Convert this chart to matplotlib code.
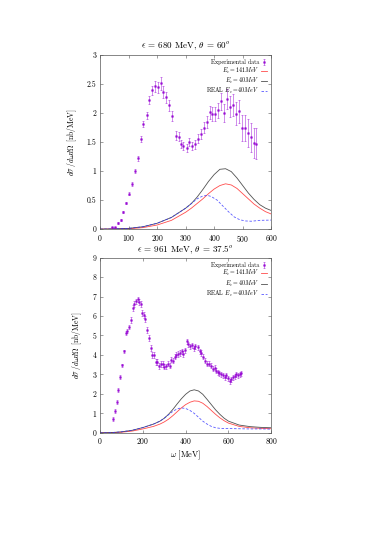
import numpy as np
import matplotlib
matplotlib.use("Agg")
import matplotlib.pyplot as plt

plt.rcParams["font.family"] = "serif"
plt.rcParams["font.serif"] = ["cmr10", "DejaVu Serif"]
plt.rcParams["mathtext.fontset"] = "cm"
plt.rcParams["axes.formatter.use_mathtext"] = True
plt.rcParams["axes.unicode_minus"] = False

# ---- top panel: eps = 680 MeV, theta = 60 deg ----
top_w = [41, 51, 62, 72, 82, 92, 103, 112, 122, 132, 142, 152, 163, 172, 182,
         192, 202, 212, 222, 232, 242, 253, 265, 276, 283, 292, 303, 313, 324,
         334, 344, 354, 364, 374, 384, 393, 402, 413, 423, 434, 444, 455, 465,
         476, 486, 497, 507, 517, 528, 538, 547]
top_y = [0.034, 0.03, 0.11, 0.15, 0.30, 0.45, 0.61, 0.77, 1.00, 1.22, 1.55,
         1.81, 1.96, 2.23, 2.39, 2.46, 2.44, 2.51, 2.36, 2.27, 2.13, 1.95, 1.61,
         1.59, 1.47, 1.43, 1.39, 1.50, 1.43, 1.46, 1.56, 1.64, 1.75, 1.84, 2.01,
         1.99, 1.99, 2.05, 2.20, 2.00, 2.24, 2.11, 2.13, 1.99, 2.03, 1.74, 1.74,
         1.66, 1.58, 1.48, 1.47]
top_err = [0.01, 0.01, 0.015, 0.015, 0.02, 0.025, 0.03, 0.035, 0.04, 0.045,
           0.05, 0.05, 0.06, 0.07, 0.08, 0.1, 0.1, 0.11, 0.1, 0.1, 0.09, 0.09,
           0.08, 0.08, 0.07, 0.07, 0.07, 0.07, 0.07, 0.08, 0.08, 0.09, 0.1, 0.1,
           0.11, 0.12, 0.12, 0.13, 0.14, 0.15, 0.17, 0.18, 0.19, 0.2, 0.2, 0.22,
           0.23, 0.24, 0.25, 0.26, 0.27]

top_cw = [0, 50, 100, 150, 200, 250, 300, 320, 340, 360, 380, 400, 420, 440,
          460, 480, 500, 520, 540, 560, 580, 600]
top_black = [0, 0.003, 0.012, 0.04, 0.1, 0.2, 0.36, 0.44, 0.55, 0.68, 0.82,
             0.94, 1.03, 1.04, 0.99, 0.88, 0.75, 0.62, 0.51, 0.42, 0.36, 0.32]
top_red = [0, 0.002, 0.006, 0.025, 0.07, 0.15, 0.29, 0.36, 0.44, 0.52, 0.61,
           0.69, 0.75, 0.78, 0.76, 0.70, 0.61, 0.52, 0.43, 0.36, 0.30, 0.26]
top_bw = [0, 50, 100, 150, 200, 250, 300, 320, 340, 360, 377, 390, 410, 430,
          450, 470, 490, 510, 530, 560, 600]
top_blue = [0, 0.003, 0.012, 0.04, 0.1, 0.2, 0.36, 0.44, 0.52, 0.57, 0.58,
            0.56, 0.50, 0.40, 0.30, 0.21, 0.16, 0.14, 0.135, 0.15, 0.155]

# ---- bottom panel: eps = 961 MeV, theta = 37.5 deg ----
bot_w = [62, 70, 78, 86, 95, 104, 112, 120, 128, 136, 144, 152, 160, 167, 175,
         183, 189, 195, 203, 211, 218, 228, 236, 244, 252, 260, 268, 276, 285,
         293, 301, 309, 317, 325, 333, 341, 349, 357, 365, 373, 381, 389, 397,
         405, 411, 418, 429, 437, 446, 456, 465, 473, 480, 491, 499, 507, 518,
         527, 535, 543, 551, 558, 566, 574, 582, 590, 597, 605, 613, 621, 629,
         636, 644, 652, 660]
bot_y = [0.72, 1.12, 1.60, 2.20, 2.85, 3.46, 4.18, 5.15, 5.22, 5.45, 5.80,
         6.40, 6.62, 6.75, 6.85, 6.70, 6.62, 6.15, 6.05, 5.85, 5.30, 4.85, 4.35,
         4.00, 3.98, 3.65, 3.62, 3.45, 3.55, 3.55, 3.40, 3.42, 3.55, 3.45, 3.75,
         3.70, 3.90, 4.00, 4.05, 4.10, 4.20, 4.05, 4.25, 4.70, 4.55, 4.45, 4.50,
         4.35, 4.45, 4.40, 4.20, 4.10, 3.90, 3.70, 3.55, 3.55, 3.45, 3.30, 3.35,
         3.20, 3.10, 3.05, 3.00, 2.95, 2.85, 2.95, 2.80, 2.65, 2.75, 2.85, 2.90,
         3.00, 2.95, 3.00, 3.05]
bot_err = [0.1] * 10 + [0.15] * 20 + [0.13] * 45

bot_cw = [0, 50, 100, 150, 200, 250, 280, 300, 320, 340, 360, 380, 400, 420,
          440, 460, 480, 500, 520, 540, 560, 580, 600, 650, 700, 750, 800]
bot_black = [0, 0.01, 0.05, 0.13, 0.27, 0.45, 0.6, 0.75, 0.95, 1.2, 1.48, 1.75,
             1.98, 2.15, 2.21, 2.15, 1.98, 1.72, 1.45, 1.18, 0.95, 0.75, 0.6,
             0.4, 0.32, 0.28, 0.26]
bot_red = [0, 0.005, 0.03, 0.09, 0.2, 0.33, 0.45, 0.56, 0.7, 0.88, 1.08, 1.28,
           1.45, 1.57, 1.64, 1.62, 1.52, 1.35, 1.15, 0.95, 0.77, 0.62, 0.5,
           0.33, 0.26, 0.23, 0.21]
bot_blue = [0, 0.01, 0.05, 0.13, 0.27, 0.45, 0.6, 0.75, 0.93, 1.1, 1.23, 1.28,
            1.25, 1.15, 1.0, 0.8, 0.6, 0.45, 0.33, 0.26, 0.23, 0.22, 0.22,
            0.21, 0.2, 0.2, 0.19]

PURPLE = "#9400d3"
fig = plt.figure(figsize=(3.82, 5.39), dpi=100)
ax1 = fig.add_axes([0.262, 0.575, 0.448, 0.323])
ax2 = fig.add_axes([0.262, 0.197, 0.448, 0.325])

panels = [
    (ax1, top_w, top_y, top_err, top_cw, top_black, top_red, top_bw, top_blue,
     (0, 600), (0, 3), np.arange(0, 601, 100), np.arange(0, 3.01, 0.5),
     r"$\epsilon$ = 680 MeV, $\theta$ = 60$^{o}$"),
    (ax2, bot_w, bot_y, bot_err, bot_cw, bot_black, bot_red, bot_cw, bot_blue,
     (0, 800), (0, 9), np.arange(0, 801, 200), np.arange(0, 10, 1),
     r"$\epsilon$ = 961 MeV, $\theta$ = 37.5$^{o}$"),
]

for (ax, w, y, e, cw, blk, red, bw, blu, xl, yl, xt, yt, title) in panels:
    h_exp = ax.errorbar(w, y, yerr=e, fmt="s", ms=0.9, color=PURPLE,
                        ecolor=PURPLE, elinewidth=0.45, capsize=0.9,
                        capthick=0.45, alpha=0.7, label="Experimental data")
    h_red, = ax.plot(cw, red, color="#ff2020", lw=0.6, alpha=0.8,
                     label=r"$E_c=141MeV$")
    h_blk, = ax.plot(cw, blk, color="#333333", lw=0.6, alpha=0.85,
                     label=r"$E_c=40MeV$")
    h_blu, = ax.plot(bw, blu, color="#3030ff", lw=0.6, ls=(0, (3, 2)),
                     alpha=0.8, label=r"REAL $E_c=40MeV$")
    ax.set_xlim(*xl)
    ax.set_ylim(*yl)
    ax.set_xticks(xt)
    ax.set_yticks(yt)
    ax.set_yticklabels([f"{v:g}" for v in yt])
    ax.tick_params(direction="in", top=True, right=True, length=2.5,
                   width=0.4, labelsize=5.5, pad=2.5, color="#555555")
    for s in ax.spines.values():
        s.set_linewidth(0.5)
        s.set_color("#555555")
    ax.set_title(title, fontsize=6.5, pad=4)
    ax.set_ylabel(r"$d\sigma\,/d\omega d\Omega$ [nb/MeV]", fontsize=5.5,
                  labelpad=6)
    ax.legend([h_exp, h_red, h_blk, h_blu],
              ["Experimental data", r"$E_c=141MeV$", r"$E_c=40MeV$",
               r"REAL $E_c=40MeV$"],
              loc="upper right", frameon=False, fontsize=4.3,
              markerfirst=False, handlelength=0.9, handletextpad=0.4,
              labelspacing=0.05, borderaxespad=0.35)

ax2.set_xlabel(r"$\omega$ [MeV]", fontsize=6, labelpad=2)

fig.savefig("out.png", dpi=100)
